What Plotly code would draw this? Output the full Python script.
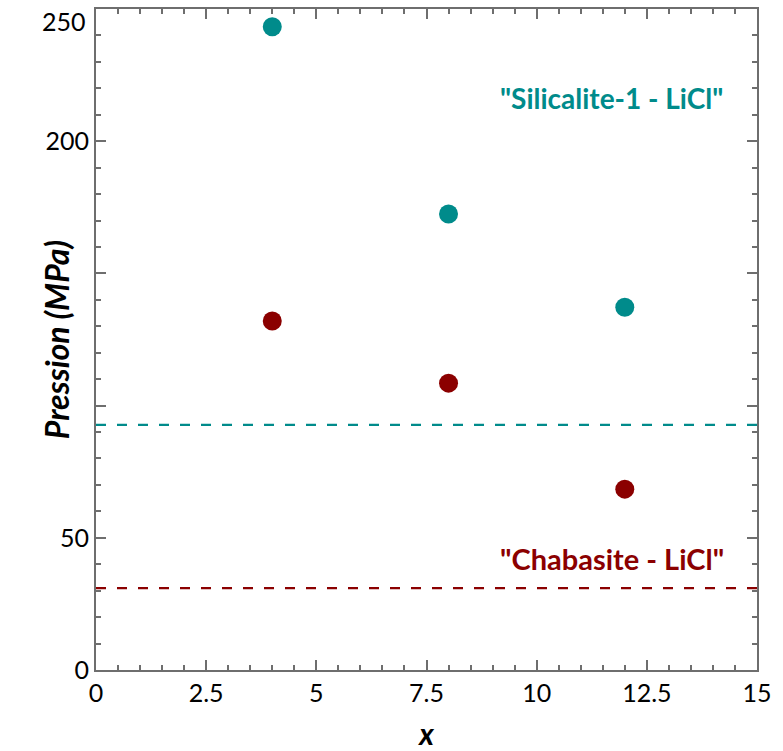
import plotly.graph_objects as go

x_vals = [4, 8, 12]
silicalite_p = [243.3, 172.5, 137.2]
chabasite_p = [132.0, 108.5, 68.4]
silicalite_ref = 92.7
chabasite_ref = 31.0
x_span = [0, 15]
y_tickvals = [0, 50, 100, 150, 200, 250]
y_ticktext = ["0", "50", "", "", "200", "250"]
x_tickvals = [0, 2.5, 5, 7.5, 10, 12.5, 15]
x_ticktext = ["0", "2.5", "5", "7.5", "10", "12.5", "15"]

TEAL = "#008b8b"
RED = "#8b0000"
FONT = "Lato"

# the top label sits just inside the page (like the reference), drawn as a text annotation
axis_ticktext = y_ticktext[:-1] + [""]

fig = go.Figure()
fig.add_trace(go.Scatter(x=x_span, y=[silicalite_ref] * 2, mode="lines",
                         line=dict(color=TEAL, width=2.2, dash="10px,11px"), showlegend=False))
fig.add_trace(go.Scatter(x=x_span, y=[chabasite_ref] * 2, mode="lines",
                         line=dict(color=RED, width=2.2, dash="10px,11px"), showlegend=False))
fig.add_trace(go.Scatter(x=x_vals, y=silicalite_p, mode="markers",
                         marker=dict(color=TEAL, size=19), showlegend=False))
fig.add_trace(go.Scatter(x=x_vals, y=chabasite_p, mode="markers",
                         marker=dict(color=RED, size=19), showlegend=False))

fig.add_annotation(x=11.7, y=216.5, text='<b>"Silicalite-1 - LiCl"</b>', showarrow=False,
                   font=dict(family=FONT, size=28, color=TEAL))
fig.add_annotation(x=11.7, y=42, text='<b>"Chabasite - LiCl"</b>', showarrow=False,
                   font=dict(family=FONT, size=29, color=RED))
fig.add_annotation(xref="paper", yref="paper", x=-0.092, y=0.5, textangle=-90,
                   text="<b><i>Pression (MPa)</i></b>", showarrow=False,
                   font=dict(family=FONT, size=32, color="black"))
fig.add_annotation(xref="paper", yref="y", x=0, y=y_tickvals[-1], text=y_ticktext[-1],
                   xanchor="right", yanchor="top", xshift=-8, yshift=5, showarrow=False,
                   font=dict(family=FONT, size=25, color="black"))

axis_common = dict(showline=True, linecolor="#6e6e6e", linewidth=2, mirror="allticks",
                   ticks="inside", ticklen=10, tickwidth=2, tickcolor="#6e6e6e",
                   showgrid=False, zeroline=False, ticklabeloverflow="allow", automargin=False,
                   tickfont=dict(family=FONT, size=25, color="black"))

fig.update_xaxes(range=[-0.0001, 15.0001], tickvals=x_tickvals, ticktext=x_ticktext,
                 minor=dict(dtick=0.5, ticks="inside", ticklen=5, tickwidth=1.5, tickcolor="#6e6e6e"),
                 title=dict(text="<b><i>x</i></b>", font=dict(family=FONT, size=30, color="black"),
                            standoff=21),
                 **axis_common)
fig.update_yaxes(range=[-0.001, 250.001], tickvals=y_tickvals, ticktext=axis_ticktext,
                 minor=dict(dtick=10, ticks="inside", ticklen=5, tickwidth=1.5, tickcolor="#6e6e6e"),
                 **axis_common)

fig.update_layout(width=783, height=751, margin=dict(l=96, r=26, t=9, b=81),
                  plot_bgcolor="white", paper_bgcolor="white")

fig.write_html("out.html")
